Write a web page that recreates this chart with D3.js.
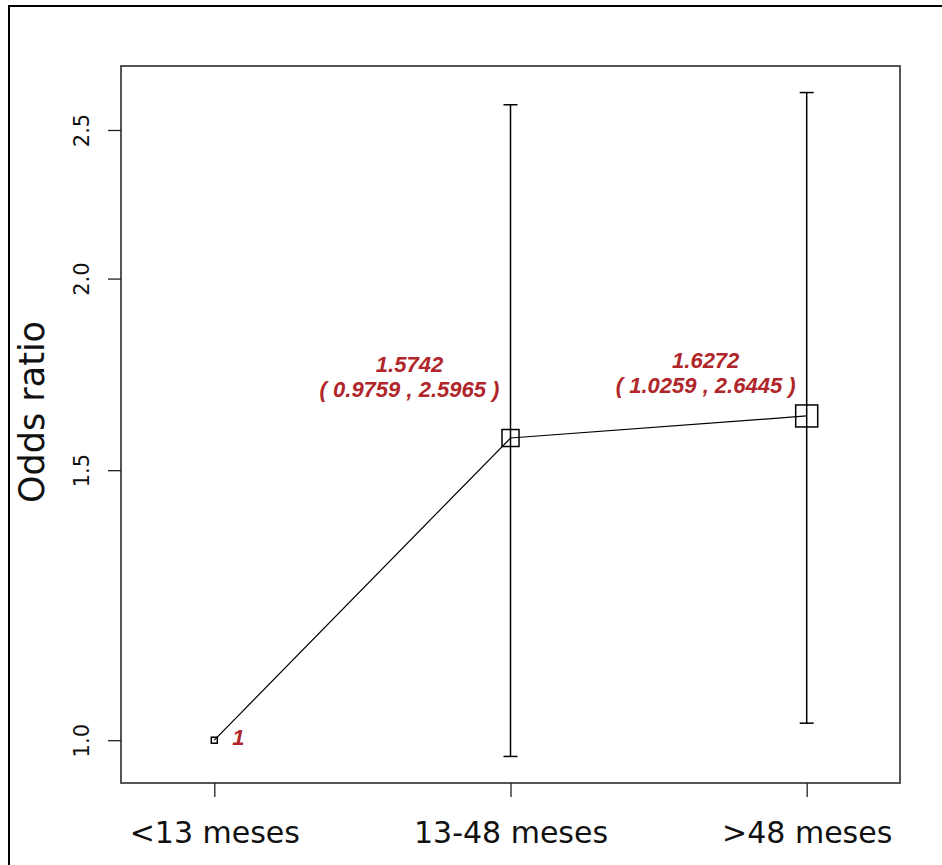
<!DOCTYPE html>
<html>
<head>
<meta charset="utf-8">
<script src="https://cdn.jsdelivr.net/npm/d3@7"></script>
<style>
  html, body { margin: 0; padding: 0; background: #fff; }
  svg { display: block; }
</style>
</head>
<body>
<script>
// Odds ratios by time group, with 95% confidence intervals
const categories = ["<13 meses", "13-48 meses", ">48 meses"];
const oddsRatio  = [1, 1.5742, 1.6272];
const ciLower    = [null, 0.9759, 1.0259];
const ciUpper    = [null, 2.5965, 2.6445];
const yTicks     = [1.0, 1.5, 2.0, 2.5];

// marker side lengths (px) and label placement relative to each point
const markerSide   = [6, 17, 22];
const labelOffset  = [[18, 5], [-101, -66], [-101, -48]];

const W = 942, H = 865;
const box = { left: 121, right: 900, top: 66, bottom: 783 };
const red = "#b0262a";

const svg = d3.select("body").append("svg")
  .attr("width", W).attr("height", H);

// outer frame
svg.append("path")
  .attr("d", `M9,${H} V6 H${W}`)
  .attr("fill", "none").attr("stroke", "#000").attr("stroke-width", 2);

// log-scale y domain with 4% padding
const allVals = oddsRatio.concat(ciLower, ciUpper).filter(v => v != null);
const lnLo = Math.log(d3.min(allVals)), lnHi = Math.log(d3.max(allVals));
const pad = (lnHi - lnLo) * 0.04;
const y = d3.scaleLog()
  .domain([Math.exp(lnLo - pad), Math.exp(lnHi + pad)])
  .range([box.bottom, box.top]);

const x = d3.scaleLinear()
  .domain([0.685, 3.315])
  .range([box.left, box.right]);

const idx = categories.map((c, i) => i + 1);

// plot box
svg.append("rect")
  .attr("x", box.left).attr("y", box.top)
  .attr("width", box.right - box.left).attr("height", box.bottom - box.top)
  .attr("fill", "none").attr("stroke", "#444").attr("stroke-width", 1.8);

// y axis
const yAxis = d3.axisLeft(y).tickValues(yTicks).tickFormat(d3.format(".1f")).tickSize(13).tickSizeOuter(0);
const gy = svg.append("g").attr("transform", `translate(${box.left},0)`).call(yAxis);
gy.select(".domain").remove();
gy.selectAll(".tick line").attr("stroke", "#222").attr("stroke-width", 1.3);
gy.selectAll(".tick text")
  .attr("x", 0).attr("dy", 0)
  .attr("transform", "translate(-32,0) rotate(-90)")
  .attr("text-anchor", "middle")
  .attr("font-family", "DejaVu Sans").attr("font-size", 21).attr("fill", "#111");

// x axis
const xAxis = d3.axisBottom(x).tickValues(idx).tickFormat((d, i) => categories[i]).tickSize(14).tickSizeOuter(0);
const gx = svg.append("g").attr("transform", `translate(0,${box.bottom})`).call(xAxis);
gx.select(".domain").remove();
gx.selectAll(".tick line").attr("stroke", "#222").attr("stroke-width", 1.3);
gx.selectAll(".tick text")
  .attr("y", 60).attr("dy", 0)
  .attr("font-family", "DejaVu Sans").attr("font-size", 30).attr("fill", "#111");

// y label
svg.append("text")
  .attr("transform", `translate(44,412) rotate(-90)`)
  .attr("text-anchor", "middle")
  .attr("font-family", "DejaVu Sans").attr("font-size", 35).attr("fill", "#111")
  .text("Odds ratio");

// confidence interval bars
const ciIdx = idx.filter((d, i) => ciLower[i] != null).map(d => d - 1);
const ci = svg.append("g").attr("stroke", "#000").attr("stroke-width", 1.5);
ciIdx.forEach(i => {
  const cx = x(idx[i]);
  ci.append("line").attr("x1", cx).attr("x2", cx).attr("y1", y(ciLower[i])).attr("y2", y(ciUpper[i]));
  [ciLower[i], ciUpper[i]].forEach(v => {
    ci.append("line").attr("x1", cx - 7).attr("x2", cx + 7).attr("y1", y(v)).attr("y2", y(v));
  });
});

// connecting line
const line = d3.line().x((d, i) => x(idx[i])).y(d => y(d));
svg.append("path").datum(oddsRatio)
  .attr("d", line).attr("fill", "none").attr("stroke", "#000").attr("stroke-width", 1.2);

// square markers
svg.append("g").selectAll("rect").data(oddsRatio).join("rect")
  .attr("x", (d, i) => x(idx[i]) - markerSide[i] / 2)
  .attr("y", (d, i) => y(d) - markerSide[i] / 2)
  .attr("width", (d, i) => markerSide[i])
  .attr("height", (d, i) => markerSide[i])
  .attr("fill", "none").attr("stroke", "#000").attr("stroke-width", 1.5);

// value labels
const fmt = d3.format(".4f");
oddsRatio.forEach((v, i) => {
  const px = x(idx[i]) + labelOffset[i][0];
  const py = y(v) + labelOffset[i][1];
  const t = svg.append("text")
    .attr("x", px).attr("y", py)
    .attr("font-family", "Liberation Sans").attr("font-size", 22)
    .attr("font-weight", "bold").attr("font-style", "italic")
    .attr("fill", red);
  if (ciLower[i] == null) {
    t.attr("text-anchor", "start").text(String(v));
  } else {
    t.attr("text-anchor", "middle").text(fmt(v));
    svg.append("text")
      .attr("x", px).attr("y", py + 25)
      .attr("text-anchor", "middle")
      .attr("font-family", "Liberation Sans").attr("font-size", 22)
      .attr("font-weight", "bold").attr("font-style", "italic")
      .attr("fill", red)
      .text(`( ${fmt(ciLower[i])} , ${fmt(ciUpper[i])} )`);
  }
});
</script>
</body>
</html>
